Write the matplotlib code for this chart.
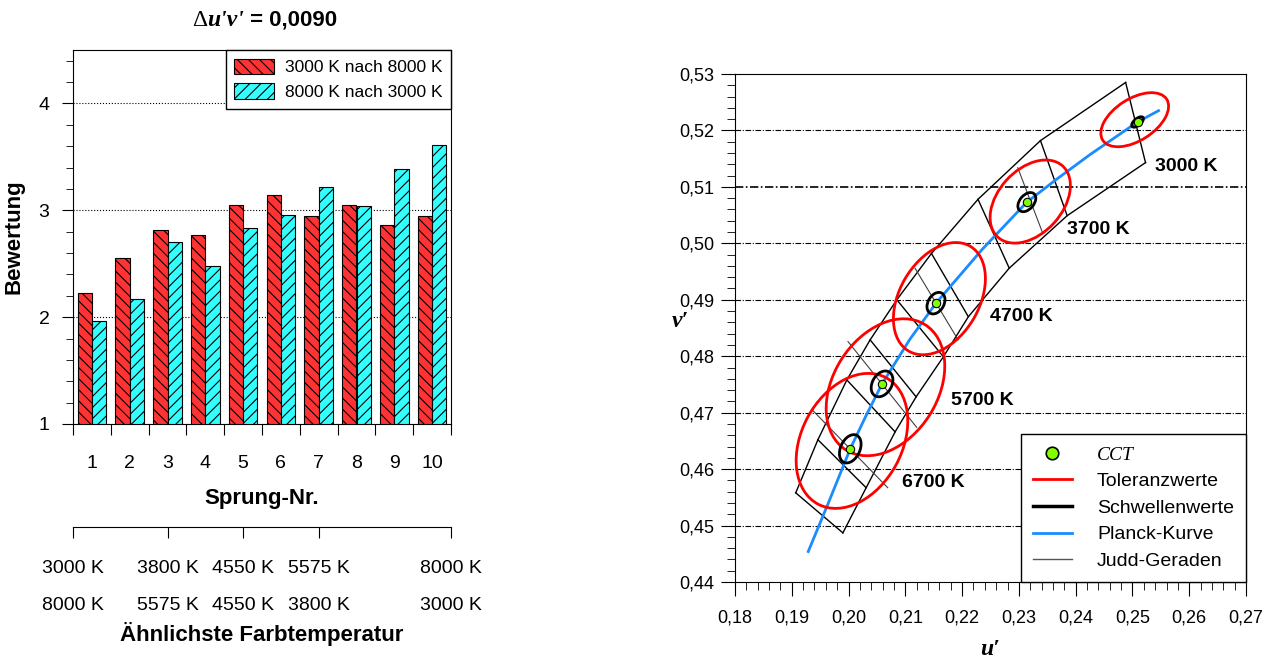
import matplotlib
matplotlib.use("Agg")
import matplotlib.pyplot as plt
from matplotlib.patches import Ellipse, Patch
from matplotlib.lines import Line2D
from matplotlib.ticker import MultipleLocator, FuncFormatter
import numpy as np

plt.rcParams['font.family'] = ['Liberation Sans', 'DejaVu Sans']
plt.rcParams['hatch.linewidth'] = 0.8
SERIF = ['Liberation Serif', 'DejaVu Serif']

# ---------------- left panel: ratings per jump ----------------
sprung = [1, 2, 3, 4, 5, 6, 7, 8, 9, 10]
warm_to_cold = [2.23, 2.55, 2.82, 2.77, 3.05, 3.14, 2.95, 3.05, 2.86, 2.95]
cold_to_warm = [1.96, 2.17, 2.70, 2.48, 2.83, 2.96, 3.22, 3.04, 3.39, 3.61]
series_names = ["3000 K nach 8000 K", "8000 K nach 3000 K"]
cct_pos = [0.5, 3, 5, 7, 10.5]
cct_rows = ["3000 K\n8000 K", "3800 K\n5575 K", "4550 K\n4550 K", "5575 K\n3800 K", "8000 K\n3000 K"]

# ---------------- right panel: u'v' diagram ----------------
planck_u = [0.1929, 0.1964, 0.2003, 0.2030, 0.2059, 0.2108, 0.2154, 0.2236, 0.2314, 0.2367, 0.2425, 0.2509, 0.2546]
planck_v = [0.4454, 0.4539, 0.4636, 0.4693, 0.4751, 0.4830, 0.4894, 0.4990, 0.5073, 0.5114, 0.5157, 0.5215, 0.5235]
cct_names = ["3000 K", "3700 K", "4700 K", "5700 K", "6700 K"]
cct_u = [0.2509, 0.2314, 0.2154, 0.2059, 0.2003]
cct_v = [0.5215, 0.5073, 0.4894, 0.4751, 0.4636]
label_u = [0.2540, 0.2385, 0.2249, 0.2180, 0.2094]
label_v = [0.5137, 0.5024, 0.4870, 0.4722, 0.4577]
# tolerance ellipses (red)
tol_u = [0.2504, 0.2320, 0.2160, 0.2065, 0.2006]
tol_v = [0.5219, 0.5074, 0.4902, 0.4745, 0.4650]
tol_w = [0.0134, 0.0170, 0.0215, 0.0262, 0.0254]
tol_h = [0.0074, 0.0113, 0.0140, 0.0184, 0.0177]
tol_ang = [33, 48, 60, 58, 62]
# threshold ellipses (black)
thr_w = [0.0025, 0.0039, 0.0041, 0.0049, 0.0053]
thr_h = [0.0012, 0.0025, 0.0028, 0.0034, 0.0034]
thr_ang = [40, 50, 60, 60, 65]
# band outline: upper-left edge and lower-right edge, Judd lines join them pairwise
upper_u = [0.2488, 0.2338, 0.2228, 0.2146, 0.2085, 0.2038, 0.1997, 0.1946, 0.1907]
upper_v = [0.5285, 0.5182, 0.5078, 0.4982, 0.4900, 0.4829, 0.4758, 0.4652, 0.4558]
lower_u = [0.2523, 0.2385, 0.2283, 0.2211, 0.2167, 0.2119, 0.2082, 0.2031, 0.1990]
lower_v = [0.5143, 0.5049, 0.4956, 0.4870, 0.4799, 0.4728, 0.4666, 0.4567, 0.4487]
# thin Judd lines through 3700 / 4700 / 5700 / 6700 K
judd_u0 = [0.2298, 0.2117, 0.1999, 0.1936]
judd_v0 = [0.5134, 0.4956, 0.4826, 0.4705]
judd_u1 = [0.2342, 0.2193, 0.2120, 0.2069]
judd_v1 = [0.5018, 0.4829, 0.4674, 0.4567]

RED = "#ff3333"
CYAN = "#33ffff"
BLUE = "#1a8cff"
GREEN = "#80ff00"

W, H = 1275, 662
fig = plt.figure(figsize=(W / 100, H / 100), dpi=100)

# ---- left axes ----
ax1 = fig.add_axes([73 / W, 1 - 424 / H, 378 / W, 374 / H])
x = np.array(sprung)
bw = 0.38
ax1.bar(x - bw / 2, warm_to_cold, bw, color=RED, edgecolor="black", lw=0.8, hatch="\\\\\\", zorder=2)
ax1.bar(x + bw / 2, cold_to_warm, bw, color=CYAN, edgecolor="black", lw=0.8, hatch="///", zorder=2)
ax1.set_xlim(0.5, 10.5)
ax1.set_ylim(1, 4.5)
ax1.set_xticks(np.arange(0.5, 11, 1))
ax1.set_xticklabels([])
ax1.set_xticks(sprung, minor=True)
ax1.set_xticklabels([str(s) for s in sprung], minor=True)
ax1.tick_params(axis="x", which="major", direction="out", length=8)
ax1.tick_params(axis="x", which="minor", length=0, pad=22, labelsize=14)
ax1.yaxis.set_major_locator(MultipleLocator(1))
ax1.yaxis.set_minor_locator(MultipleLocator(0.2))
ax1.tick_params(axis="y", which="major", direction="out", length=8, pad=9, labelsize=14)
ax1.tick_params(axis="y", which="minor", direction="out", length=5)
ax1.grid(axis="y", which="major", ls=":", color="black", lw=0.8)
ax1.set_axisbelow(True)
ax1.set_ylabel("Bewertung", fontsize=16, fontweight="bold", labelpad=10)
ax1.set_xlabel("Sprung-Nr.", fontsize=16, fontweight="bold", labelpad=12)
hl = [Patch(facecolor=RED, edgecolor="black", hatch="\\\\\\", lw=0.8),
      Patch(facecolor=CYAN, edgecolor="black", hatch="///", lw=0.8)]
ax1.legend(hl, series_names, loc="upper right", fontsize=12.5, borderaxespad=0, fancybox=False,
           edgecolor="black", framealpha=1, handlelength=2.3, handleheight=1.0,
           handletextpad=0.6, labelspacing=0.45, borderpad=0.5)

# title: Δu'v' = 0,0090
tm = fig.text(244 / W, 1 - 20 / H, "u'v'", ha="right", va="center", fontsize=17,
              family=SERIF, style="italic", fontweight="bold")
ax1.annotate("Δ", xy=(0, 0), xycoords=tm, ha="right", va="bottom", fontsize=17, family=SERIF)
ax1.annotate(" = 0,0090", xy=(1, 0), xycoords=tm, ha="left", va="bottom", fontsize=16, fontweight="bold")

# ---- secondary CCT axis ----
ax3 = fig.add_axes([73 / W, 1 - 527 / H, 378 / W, 0.0001])
ax3.set_xlim(0.5, 10.5)
for s in ("left", "right", "top"):
    ax3.spines[s].set_visible(False)
ax3.patch.set_visible(False)
ax3.set_yticks([])
ax3.set_xticks(cct_pos)
ax3.set_xticklabels(cct_rows)
ax3.tick_params(axis="x", direction="out", length=8, pad=16, labelsize=14)
for t in ax3.get_xticklabels():
    t.set_linespacing(2.5)
ax3.set_xlabel("Ähnlichste Farbtemperatur", fontsize=16, fontweight="bold", labelpad=6)

# ---- right axes ----
ax2 = fig.add_axes([735 / W, 1 - 582 / H, 511 / W, 508 / H])
ax2.set_xlim(0.18, 0.27)
ax2.set_ylim(0.44, 0.53)
comma = FuncFormatter(lambda v, p: f"{v:.2f}".replace(".", ","))
ax2.xaxis.set_major_locator(MultipleLocator(0.01))
ax2.xaxis.set_minor_locator(MultipleLocator(0.002))
ax2.yaxis.set_major_locator(MultipleLocator(0.01))
ax2.yaxis.set_minor_locator(MultipleLocator(0.002))
ax2.xaxis.set_major_formatter(comma)
ax2.yaxis.set_major_formatter(comma)
ax2.tick_params(which="major", direction="out", length=10, labelsize=13)
ax2.tick_params(which="minor", direction="out", length=5.5)
ax2.tick_params(axis="x", which="major", pad=10)
ax2.tick_params(axis="y", which="major", pad=5)
for gv in np.arange(0.45, 0.525, 0.01):
    ax2.axhline(gv, color="black", lw=1.2 if abs(gv - 0.51) < 1e-6 else 0.8,
                dashes=(5, 1.5, 1, 1.5), zorder=0)

# band outline + Judd lines
ax2.plot(upper_u, upper_v, color="black", lw=1.0, zorder=2)
ax2.plot(lower_u, lower_v, color="black", lw=1.0, zorder=2)
for i in range(len(upper_u)):
    ax2.plot([upper_u[i], lower_u[i]], [upper_v[i], lower_v[i]], color="black", lw=1.0, zorder=2)
for i in range(len(judd_u0)):
    ax2.plot([judd_u0[i], judd_u1[i]], [judd_v0[i], judd_v1[i]], color="#404040", lw=0.8, zorder=2)

ax2.plot(planck_u, planck_v, color=BLUE, lw=2, zorder=3)
for i in range(len(cct_u)):
    ax2.add_patch(Ellipse((tol_u[i], tol_v[i]), tol_w[i], tol_h[i], angle=tol_ang[i],
                          fill=False, ec="red", lw=2, zorder=4))
    ax2.add_patch(Ellipse((cct_u[i], cct_v[i]), thr_w[i], thr_h[i], angle=thr_ang[i],
                          fill=False, ec="black", lw=2, zorder=5))
    ax2.text(label_u[i], label_v[i], cct_names[i], fontsize=14, fontweight="bold",
             ha="left", va="center", zorder=6)
ax2.plot(cct_u, cct_v, "o", ms=6, mfc=GREEN, mec="black", mew=0.8, zorder=6)

ax2.set_xlabel("u′", fontsize=17, fontweight="bold", style="italic", family=SERIF, labelpad=9)
ax2.set_ylabel("v′", fontsize=17, fontweight="bold", style="italic", family=SERIF, rotation=0,
               ha="center", va="center")
ax2.yaxis.set_label_coords(-0.106, 0.512)

hr = [Line2D([], [], ls="none", marker="o", ms=9, mfc=GREEN, mec="black", mew=1.2),
      Line2D([], [], color="red", lw=2),
      Line2D([], [], color="black", lw=2.5),
      Line2D([], [], color=BLUE, lw=2),
      Line2D([], [], color="#555555", lw=1)]
leg = ax2.legend(hr, ["CCT", "Toleranzwerte", "Schwellenwerte", "Planck-Kurve", "Judd-Geraden"],
                 loc="lower right", fontsize=14, borderaxespad=0, fancybox=False, edgecolor="black",
                 framealpha=1, handlelength=2.0, handletextpad=1.3, labelspacing=0.46, borderpad=0.62)
leg.get_texts()[0].set_fontfamily(SERIF)
leg.get_texts()[0].set_fontstyle("italic")

fig.savefig("out.png", dpi=100)
